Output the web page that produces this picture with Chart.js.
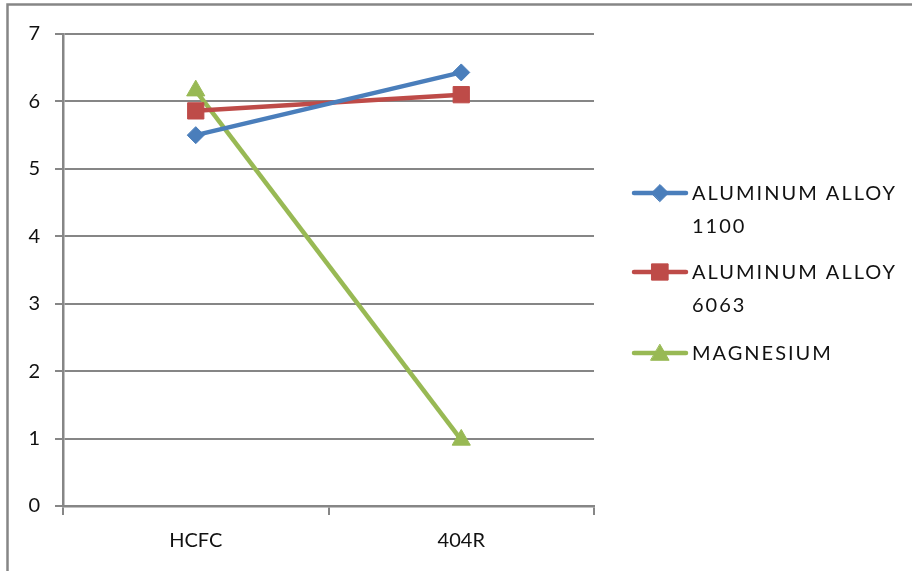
<!DOCTYPE html>
<html>
<head>
<meta charset="utf-8">
<script src="https://cdn.jsdelivr.net/npm/chart.js@4/dist/chart.umd.min.js"></script>
<style>
  html, body { margin: 0; padding: 0; background: #fff; }
  #wrap { width: 912px; height: 571px; position: relative; }
</style>
</head>
<body>
<div id="wrap"><canvas id="c" width="912" height="571"></canvas></div>
<script>
const categories = ['HCFC', '404R'];
const seriesNames = [['ALUMINUM ALLOY', '1100'], ['ALUMINUM ALLOY', '6063'], ['MAGNESIUM']];
const alloy1100 = [5.5, 6.43];
const alloy6063 = [5.86, 6.1];
const magnesium = [6.16, 0.98];
const yTicks = [0, 1, 2, 3, 4, 5, 6, 7];

const FONT = 'Lato, "Open Sans", sans-serif';
const GRID = '#868686';

const styles = [
  { color: '#4A7EBB', point: 'rectRot', radius: 8.5 },
  { color: '#BE4B48', point: 'rect', radius: 11.5 },
  { color: '#98B954', point: 'triangle', radius: 10.5 }
];
const values = [alloy1100, alloy6063, magnesium];

const datasets = values.map((v, i) => ({
  label: seriesNames[i].join(' '),
  data: v,
  borderColor: styles[i].color,
  backgroundColor: styles[i].color,
  borderWidth: 4.5,
  pointStyle: styles[i].point,
  pointRadius: styles[i].radius,
  pointHoverRadius: styles[i].radius,
  pointBorderWidth: 1,
  tension: 0
}));

// outer frame plus a two-line legend on the right
const framePlugin = {
  id: 'frame',
  beforeDraw(chart) {
    const ctx = chart.ctx;
    ctx.save();
    ctx.strokeStyle = GRID;
    ctx.lineWidth = 2.5;
    ctx.strokeRect(7.5, 4.5, 912, 580);
    ctx.restore();
  },
  afterDraw(chart) {
    const ctx = chart.ctx;
    const rows = [193, 272, 353];
    ctx.save();
    chart.data.datasets.forEach((ds, i) => {
      const y = rows[i];
      ctx.strokeStyle = ds.borderColor;
      ctx.lineWidth = 4.5;
      ctx.lineCap = 'round';
      ctx.beginPath();
      ctx.moveTo(634, y);
      ctx.lineTo(686, y);
      ctx.stroke();
      ctx.fillStyle = ds.backgroundColor;
      ctx.lineWidth = 1;
      ctx.beginPath();
      Chart.helpers.drawPoint(ctx, {
        pointStyle: ds.pointStyle,
        radius: ds.pointRadius,
        rotation: 0,
        borderWidth: 1
      }, 660, y + (ds.pointStyle === 'triangle' ? 2 : 0));
      ctx.fillStyle = '#111';
      ctx.font = '20px ' + FONT;
      ctx.letterSpacing = '2px';
      ctx.textBaseline = 'middle';
      ctx.textAlign = 'left';
      seriesNames[i].forEach((line, k) => {
        ctx.fillText(line, 692, y + 1 + k * 33);
      });
    });
    ctx.restore();
  }
};

new Chart(document.getElementById('c'), {
  type: 'line',
  data: { labels: categories, datasets },
  options: {
    responsive: false,
    animation: false,
    layout: { padding: { left: 0, right: 318, top: 34, bottom: 0 } },
    plugins: { legend: { display: false }, tooltip: { enabled: false } },
    scales: {
      x: {
        offset: true,
        grid: {
          offset: true,
          drawOnChartArea: false,
          drawTicks: true,
          tickLength: 9,
          color: GRID,
          lineWidth: 2
        },
        border: { color: GRID, width: 2.5 },
        ticks: { color: '#111', font: { family: FONT, size: 20 }, padding: 14 },
        afterFit(s) { s.height = 65; }
      },
      y: {
        min: 0,
        max: 7,
        afterBuildTicks(s) { s.ticks = yTicks.map(v => ({ value: v })); },
        grid: { color: GRID, lineWidth: 2, tickLength: 8 },
        border: { color: GRID, width: 2.5 },
        ticks: { color: '#111', font: { family: FONT, size: 20 }, padding: 15 },
        afterFit(s) { s.width = 63; }
      }
    }
  },
  plugins: [framePlugin]
});
</script>
</body>
</html>
